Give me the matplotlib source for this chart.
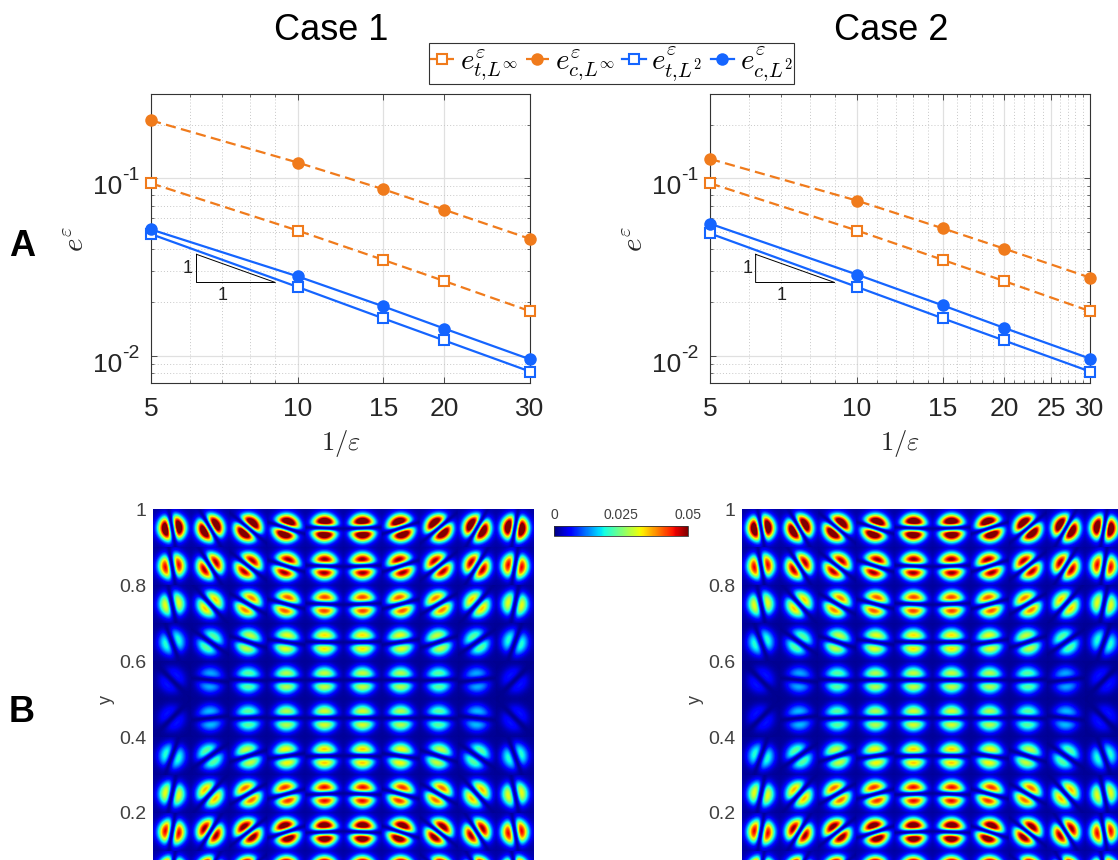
import numpy as np
import matplotlib
matplotlib.use("Agg")
import matplotlib.pyplot as plt
from matplotlib.ticker import FixedLocator, NullFormatter, FixedFormatter

plt.rcParams['font.family'] = ['Liberation Sans', 'DejaVu Sans']
plt.rcParams['mathtext.fontset'] = 'dejavusans'

# ---------- data ----------
eps_inv = [5, 10, 15, 20, 30]
case1_t_inf = [0.0937, 0.0508, 0.0347, 0.0264, 0.01786]
case1_c_inf = [0.2117, 0.1226, 0.0867, 0.0665, 0.0456]
case1_t_l2 = [0.0485, 0.02445, 0.01626, 0.01222, 0.00817]
case1_c_l2 = [0.0515, 0.02805, 0.0190, 0.01426, 0.00957]
case2_t_inf = [0.0937, 0.0508, 0.0347, 0.0264, 0.01786]
case2_c_inf = [0.1285, 0.0748, 0.0522, 0.0402, 0.0276]
case2_t_l2 = [0.0489, 0.02445, 0.01626, 0.01222, 0.00817]
case2_c_l2 = [0.0555, 0.0287, 0.01923, 0.01439, 0.00966]

slope_x = [6.2, 6.2, 9.0, 6.2]
slope_y = [0.0373, 0.0259, 0.0259, 0.0373]
slope_label_x = 7.0

case1_xticks = [5, 10, 15, 20, 30]
case2_xticks = [5, 10, 15, 20, 25, 30]
case1_xminor = [6, 7, 8, 9]
case2_xminor = [6, 7, 8, 9, 11, 12, 13, 14, 16, 17, 18, 19, 21, 22, 23, 24, 26, 27, 28, 29]
y_major = [0.01, 0.1]
y_exponents = ['-2', '-1']

# peak error in each lobe pair, rows from y=0.95 down to y=0.05, columns x=0.05..0.95
lobe_amp = [
    [.056, .056, .056, .056, .056, .056, .056, .056, .056, .056],
    [.042, .045, .045, .046, .046, .046, .046, .045, .045, .042],
    [.029, .032, .036, .038, .039, .039, .038, .036, .032, .029],
    [.018, .021, .027, .029, .031, .031, .029, .027, .021, .018],
    [.006, .013, .021, .026, .027, .027, .026, .021, .013, .006],
    [.006, .014, .021, .026, .028, .028, .026, .021, .014, .006],
    [.018, .021, .027, .030, .032, .032, .030, .027, .021, .018],
    [.029, .033, .037, .040, .042, .042, .040, .037, .033, .029],
    [.042, .046, .049, .052, .053, .053, .052, .049, .046, .042],
    [.056, .056, .056, .056, .056, .056, .056, .056, .056, .056],
]
# direction joining the two lobes (degrees from +x), x<0.5 and y>0.5 quadrant, rows from the top edge
lobe_angle = [
    [10, 30, 50, 72, 88],
    [10, 32, 52, 72, 88],
    [12, 42, 60, 75, 88],
    [20, 55, 72, 82, 89],
    [45, 84, 88, 90, 90],
]

cbar_ticks = [0, 0.025, 0.05]
cbar_labels = ['0', '0.025', '0.05']
y_ticks_map = [0.2, 0.4, 0.6, 0.8, 1]
y_labels_map = ['0.2', '0.4', '0.6', '0.8', '1']

ORANGE = '#F07B1C'
BLUE = '#1565FF'
GREY = '#333333'
W, H = 1118, 860


def box(ax_left, ax_top, ax_right, ax_bottom):
    return [ax_left / W, 1 - ax_bottom / H, (ax_right - ax_left) / W, (ax_bottom - ax_top) / H]


def lobes(amp, ang, n=380):
    """Render lobe pairs on an n x n grid from the amplitude and angle tables."""
    px = 1 / 380
    amp = np.asarray(amp)
    ang = np.asarray(ang, dtype=float)
    c = (np.arange(n) + 0.5) / n
    X, Y = np.meshgrid(c, 1 - c)
    col = np.clip((X * 10).astype(int), 0, 9)
    row = np.clip(((1 - Y) * 10).astype(int), 0, 9)
    dx = X - (col + 0.5) / 10
    dy = Y - (9 - row + 0.5) / 10
    q_col = np.minimum(col, 9 - col)
    q_row = np.minimum(row, 9 - row)
    deg = ang[q_row, q_col]
    deg = np.where(col >= 5, 180 - deg, deg)
    th = np.deg2rad(deg)
    th = np.where(row >= 5, -th, th)
    u = np.abs(dx * np.cos(th) + dy * np.sin(th))
    r = np.hypot(dx, dy)
    A = amp[row, col]
    disc = np.exp(-(r / (12.5 * px)) ** 3)
    inner = 1 - np.exp(-(u / (4.5 * px)) ** 2)
    halo = np.exp(-r ** 2 / (2 * (15 * px) ** 2))
    narrow = 1 - 0.6 * np.exp(-(u / (2.0 * px)) ** 2)
    return 0.0007 + A * (1.3 * disc * inner + 0.08 * halo * narrow)


fig = plt.figure(figsize=(W / 100, H / 100), dpi=100)


def error_axes(rect, series, xticks, xminor):
    ax = fig.add_axes(rect)
    t_inf, c_inf, t_l2, c_l2 = series
    common = dict(lw=1.6, clip_on=False, zorder=5)
    sq = dict(marker='s', ms=6.8, mew=1.5, mfc='white')
    ci = dict(marker='o', ms=9.0, mew=0)
    h = []
    h += ax.plot(eps_inv, t_inf, color=ORANGE, dashes=(4.6, 2.4), label=r'$e^{\varepsilon}_{t{,}L^{\infty}}$', **sq, **common)
    h += ax.plot(eps_inv, c_inf, color=ORANGE, dashes=(4.6, 2.4), label=r'$e^{\varepsilon}_{c{,}L^{\infty}}$', **ci, **common)
    h += ax.plot(eps_inv, t_l2, color=BLUE, label=r'$e^{\varepsilon}_{t{,}L^{2}}$', **sq, **common)
    h += ax.plot(eps_inv, c_l2, color=BLUE, label=r'$e^{\varepsilon}_{c{,}L^{2}}$', **ci, **common)
    ax.plot(slope_x, slope_y, color='black', lw=0.7, zorder=4)
    ax.annotate('1', xy=(slope_x[0], (slope_y[0] * slope_y[1]) ** 0.5), xytext=(-2.5, 0), textcoords='offset points',
                ha='right', va='center', fontsize=13, color='#222222')
    ax.annotate('1', xy=(slope_label_x, slope_y[1]), xytext=(0, -3), textcoords='offset points',
                ha='center', va='top', fontsize=13, color='#222222')
    ax.set_xscale('log')
    ax.set_yscale('log')
    ax.set_xlim(5, 30)
    ax.set_ylim(0.00704, 0.298)
    ax.xaxis.set_major_locator(FixedLocator(xticks))
    ax.xaxis.set_major_formatter(FixedFormatter([str(t) for t in xticks]))
    ax.xaxis.set_minor_locator(FixedLocator(xminor))
    ax.xaxis.set_minor_formatter(NullFormatter())
    ax.yaxis.set_major_locator(FixedLocator(y_major))
    ax.yaxis.set_major_formatter(NullFormatter())
    ax.yaxis.set_minor_locator(FixedLocator([m * d for d in (0.001, 0.01, 0.1) for m in range(2, 10)]))
    ax.yaxis.set_minor_formatter(NullFormatter())
    ax.tick_params(which='major', direction='in', top=True, right=True, length=4, width=0.6, color=GREY,
                   labelsize=19, labelcolor='#262626', pad=10)
    ax.tick_params(which='minor', direction='in', top=True, right=True, length=2, width=0.5, color=GREY)
    ax.grid(True, which='major', color='#e0e0e0', lw=0.9)
    ax.grid(True, which='minor', color='#c8c8c8', lw=0.7, ls=(0, (1, 2.2)))
    ax.set_axisbelow(True)
    for s in ax.spines.values():
        s.set_color(GREY)
        s.set_linewidth(0.8)
    trans = ax.get_yaxis_transform()
    for val, ex in zip(y_major, y_exponents):
        ax.annotate('10', xy=(0, val), xycoords=trans, xytext=(-21, -11.5), textcoords='offset points',
                    ha='right', va='baseline', fontsize=19, color='#262626')
        ax.annotate(ex, xy=(0, val), xycoords=trans, xytext=(-21, -1.5), textcoords='offset points',
                    ha='left', va='baseline', fontsize=14, color='#262626')
    ax.set_xlabel(r'$1/\varepsilon$', fontsize=19, color='#262626', math_fontfamily='cm', labelpad=5)
    ax.set_ylabel(r'$e^{\varepsilon}$', fontsize=21, color='#262626', math_fontfamily='cm')
    ax.yaxis.set_label_coords(-0.16, 0.497)
    return ax, h


ax1, handles = error_axes(box(151, 94, 530, 383), (case1_t_inf, case1_c_inf, case1_t_l2, case1_c_l2), case1_xticks, case1_xminor)
ax2, _ = error_axes(box(710, 94, 1090, 383), (case2_t_inf, case2_c_inf, case2_t_l2, case2_c_l2), case2_xticks, case2_xminor)

fig.text(331 / W, 1 - 31 / H, 'Case 1', fontsize=26, ha='center', va='center', color='black')
fig.text(891 / W, 1 - 31 / H, 'Case 2', fontsize=26, ha='center', va='center', color='black')
fig.text(22 / W, 1 - 247 / H, 'A', fontsize=26, fontweight='bold', ha='center', va='center', color='black')
fig.text(22 / W, 1 - 712 / H, 'B', fontsize=26, fontweight='bold', ha='center', va='center', color='black')

leg = fig.legend(handles=handles, loc='center', bbox_to_anchor=(611.5 / W, 1 - 63.5 / H), ncol=4,
                 fontsize=21, frameon=True, fancybox=False, edgecolor=GREY, framealpha=1,
                 handlelength=0.8, handletextpad=0.2, columnspacing=0.27, borderpad=0.05, borderaxespad=0)
leg.get_frame().set_linewidth(0.8)
for t in leg.get_texts():
    t.set_math_fontfamily('cm')


def map_axes(rect):
    ax = fig.add_axes(rect)
    im = ax.imshow(lobes(lobe_amp, lobe_angle), extent=(0, 1, 0, 1), origin='upper', cmap='jet', vmin=0, vmax=0.05,
                   interpolation='bilinear', aspect='auto')
    ax.set_xticks([])
    ax.set_yticks(y_ticks_map)
    ax.set_yticklabels(y_labels_map)
    ax.tick_params(axis='y', length=0, labelsize=14, labelcolor='#404040', pad=5)
    for s in ax.spines.values():
        s.set_visible(False)
    ax.set_ylabel('y', fontsize=13, color='#404040', labelpad=3)
    return im


im = map_axes(box(153, 509, 534, 889))
map_axes(box(742, 509, 1123, 889))

cax = fig.add_axes(box(554, 525.5, 688, 536))
cb = fig.colorbar(im, cax=cax, orientation='horizontal')
cb.set_ticks(cbar_ticks)
cb.set_ticklabels(cbar_labels)
cax.xaxis.set_ticks_position('top')
cax.tick_params(length=0, labelsize=10, labelcolor='#404040', pad=2.5)
cb.outline.set_linewidth(0.6)
cb.outline.set_edgecolor(GREY)

fig.savefig('out.png', dpi=100)
